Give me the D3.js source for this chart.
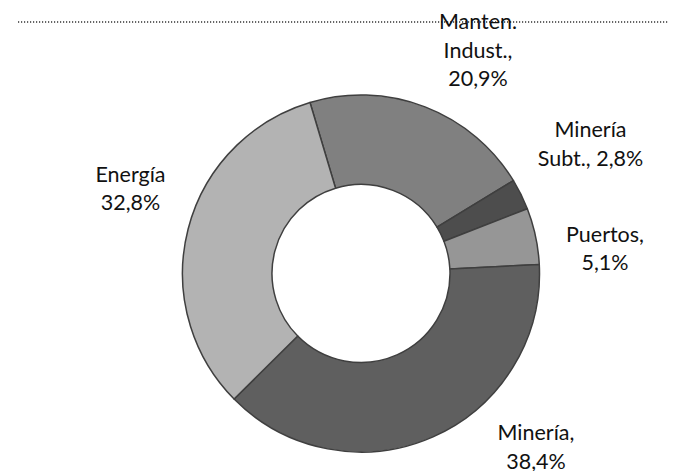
<!DOCTYPE html>
<html>
<head>
<meta charset="utf-8">
<script src="https://cdn.jsdelivr.net/npm/d3@7/dist/d3.min.js"></script>
<style>
  html, body { margin: 0; padding: 0; background: #fff; }
  svg { display: block; }
  text { font-family: Lato, "Open Sans", sans-serif; }
</style>
</head>
<body>
<svg id="chart" width="682" height="471"></svg>
<script>
// Share of work by sector (percent)
const categories = ["Manten. Indust.", "Minería Subt.", "Puertos", "Minería", "Energía"];
const values = [20.9, 2.8, 5.1, 38.4, 32.8];
// Label lines; "{v}" is replaced by the formatted value
const labelLines = [
  ["Manten.", "Indust.,", "{v}"],
  ["Minería", "Subt., {v}"],
  ["Puertos,", "{v}"],
  ["Minería,", "{v}"],
  ["Energía", "{v}"]
];

// ---- layout & style ----
const W = 682, H = 471;
const cx = 361, cy = 273.5;
const outerR = 178.5, innerR = 89;
const startDeg = -16.6;
const fills = ["#808080", "#4d4d4d", "#969696", "#5f5f5f", "#b3b3b3"];
const labelPos = [
  { x: 478, y: 29 },
  { x: 590.5, y: 137 },
  { x: 605, y: 241.7 },
  { x: 536, y: 440 },
  { x: 130.5, y: 181.7 }
];
const lineGap = 28.5;
const fontSize = 21.5;

const svg = d3.select("#chart");

const fmt = v => d3.format(".1f")(v).replace(".", ",") + "%";

const rows = categories.map((c, i) => ({ name: c, value: values[i], i }));

const start = startDeg * Math.PI / 180;
const pie = d3.pie().sort(null).value(d => d.value)
  .startAngle(start).endAngle(start + 2 * Math.PI);
const arc = d3.arc().innerRadius(innerR).outerRadius(outerR);

const g = svg.append("g").attr("transform", `translate(${cx},${cy})`);

g.selectAll("path.slice")
  .data(pie(rows))
  .join("path")
  .attr("class", "slice")
  .attr("d", arc)
  .attr("fill", d => fills[d.data.i])
  .attr("stroke", "#3f3f3f")
  .attr("stroke-width", 1.5)
  .attr("stroke-linejoin", "round");

// dotted rule across the top
svg.append("line")
  .attr("x1", 18).attr("x2", 668)
  .attr("y1", 22).attr("y2", 22)
  .attr("stroke", "#333")
  .attr("stroke-width", 1.5)
  .attr("stroke-dasharray", "1.2,1.8");

// data labels
const labels = svg.append("g");
rows.forEach((r, i) => {
  const t = labels.append("text")
    .attr("text-anchor", "middle")
    .attr("font-size", fontSize)
    .attr("fill", "#111");
  labelLines[i].forEach((ln, k) => {
    t.append("tspan")
      .attr("x", labelPos[i].x)
      .attr("y", labelPos[i].y + k * lineGap)
      .text(ln.replace("{v}", fmt(r.value)));
  });
});
</script>
</body>
</html>
